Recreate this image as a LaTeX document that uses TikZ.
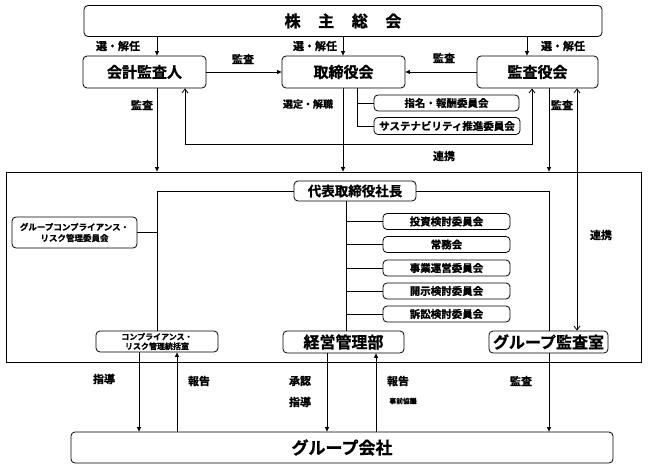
\documentclass[tikz,border=0pt]{standalone}
\usepackage{fontspec}
\setmainfont{Noto Sans CJK JP}[BoldFont={Noto Sans CJK JP Bold},BoldFeatures={FakeBold=1}]
\usetikzlibrary{arrows.meta}
\newcommand{\myfs}[2]{\fontsize{#1}{#2}\selectfont}
\tikzset{
  box/.style={draw, rounded corners=4pt, line width=0.8pt, inner sep=0pt, align=center},
  lbl/.style={inner sep=0pt, font=\bfseries\myfs{11}{13}},
  arr/.style={-{Triangle[length=4.5pt,width=4pt]}},
  barb/.style={{Straight Barb[length=4pt,width=6pt]}-{Straight Barb[length=4pt,width=6pt]}},
  comm/.style={box, minimum width=127pt, minimum height=16pt, font=\bfseries\myfs{10.5}{12}}
}
\begin{document}
\begin{tikzpicture}[x=1pt,y=-1pt,line width=0.8pt]
\useasboundingbox (0,0) rectangle (648,468);
% columns
\coordinate (xA) at (157,0);
\coordinate (xL) at (185,0);
\coordinate (xT) at (343,0);
\coordinate (xB) at (357,0);
\coordinate (xK) at (527,0);
\coordinate (xR) at (532,0);
\coordinate (xS) at (549,0);
\coordinate (xD) at (577,0);
\coordinate (xP) at (346,0);
\coordinate (x1) at (139,0);
\coordinate (x2) at (177,0);
\coordinate (x3) at (327,0);
\coordinate (x4) at (376,0);
\coordinate (rl) at (0,144);
% boxes
\node[box,minimum width=518pt,minimum height=31pt,font=\bfseries\myfs{16}{19}] (gm) at (343,21) {株\hspace{1.1em}主\hspace{1.1em}総\hspace{1.1em}会};
\node[box,minimum width=123pt,minimum height=32pt,font=\bfseries\myfs{15}{18}] (kaikei) at (144.5,72) {会計監査人};
\node[box,minimum width=123pt,minimum height=32pt,font=\bfseries\myfs{15}{18}] (tori) at (343.5,72) {取締役会};
\node[box,minimum width=121pt,minimum height=32pt,font=\bfseries\myfs{15}{18}] (kansa) at (537.5,72) {監査役会};
\node[box,minimum width=145pt,minimum height=16pt,font=\bfseries\myfs{10.5}{12}] (shimei) at (446.5,103) {指名・報酬委員会};
\node[box,minimum width=146pt,minimum height=17pt,font=\bfseries\myfs{10.5}{12}] (susta) at (447,126) {サステナビリティ推進委員会};
\node[draw,minimum width=635pt,minimum height=190pt,inner sep=0pt] (outer) at (323.5,267) {};
\node[box,minimum width=122pt,minimum height=20pt,font=\bfseries\myfs{13.5}{16}] (pres) at (355,191) {代表取締役社長};
\node[box,minimum width=125pt,minimum height=31pt,font=\bfseries\myfs{8.5}{11}] (gcr) at (74.5,232.5) {グループコンプライアンス・\\リスク管理委員会};
\node[comm] (c1) at (446.5,221.5) {投資検討委員会};
\node[comm] (c2) at (446.5,244.5) {常務会};
\node[comm] (c3) at (446.5,268) {事業運営委員会};
\node[comm] (c4) at (446.5,291) {開示検討委員会};
\node[comm] (c5) at (446.5,314) {訴訟検討委員会};
\node[box,minimum width=122pt,minimum height=21pt,font=\bfseries\myfs{8}{9.5}] (comp) at (157,341.5) {コンプライアンス・\\リスク管理統括室};
\node[box,minimum width=121pt,minimum height=22pt,font=\bfseries\myfs{16}{19}] (keiei) at (343.5,342) {経営管理部};
\node[box,minimum width=119pt,minimum height=22pt,font=\bfseries\myfs{16}{19}] (audit) at (548.5,342) {グループ監査室};
\node[box,minimum width=542pt,minimum height=31pt,font=\bfseries\myfs{17}{20}] (group) at (342,447.5) {グループ会社};
% connectors top
\draw[arr] (gm.south -| xA) -- (kaikei.north -| xA);
\draw[arr] (gm.south -| xT) -- (tori.north -| xT);
\draw[arr] (gm.south -| xK) -- (kansa.north -| xK);
\draw[arr] (kaikei) -- (tori);
\draw[arr] (kansa) -- (tori);
\draw[arr] (kaikei.south -| xA) -- (outer.north -| xA);
\draw[arr] (tori.south -| xT) -- (outer.north -| xT);
\draw[arr] (kansa.south -| xS) -- (outer.north -| xS);
\draw (tori.south -| xB) |- (susta.west);
\draw (shimei.west -| xB) -- (shimei.west);
\draw[barb] (kaikei.south -| xL) -- (xL |- rl) -- (xR |- rl) -- (kansa.south -| xR);
\draw[barb] (kansa.south -| xD) -- (audit.north -| xD);
% inside
\draw (pres.west) -| (comp.north);
\draw (pres.east) -| (audit.north -| xS);
\draw (gcr.east) -- (gcr.east -| xA);
\draw (pres.south -| xP) -- (keiei.north -| xP);
\foreach \c in {c1,c2,c3,c4,c5} {\draw (\c.west -| xP) -- (\c.west);}
% bottom
\draw[arr] (comp.south -| x1) -- (group.north -| x1);
\draw[arr] (group.north -| x2) -- (comp.south -| x2);
\draw[arr] (keiei.south -| x3) -- (group.north -| x3);
\draw[arr] (group.north -| x4) -- (keiei.south -| x4);
\draw[arr] (audit.south -| xS) -- (group.north -| xS);
% labels
\node[lbl] (l1) at (118,46) {選・解任};
\node[lbl] (l2) at (315,46) {選・解任};
\node[lbl] (l3) at (563,46) {選・解任};
\node[lbl] (l4) at (243,59) {監査};
\node[lbl] (l5) at (444,58) {監査};
\node[lbl] (l6) at (142,105) {監査};
\node[lbl,font=\bfseries\myfs{10}{12}] (l7) at (308,104) {選定・解職};
\node[lbl] (l8) at (562,105) {監査};
\node[lbl] (l9) at (444,156) {連携};
\node[lbl] (l10) at (601,235) {連携};
\node[lbl] (l11) at (104,379) {指導};
\node[lbl] (l12) at (199,381) {報告};
\node[lbl] (l13) at (300,381) {承認};
\node[lbl] (l14) at (300,402) {指導};
\node[lbl] (l15) at (398,381) {報告};
\node[lbl,font=\bfseries\myfs{6.8}{8}] (l16) at (403,401) {事前協議};
\node[lbl] (l17) at (521,381) {監査};
\end{tikzpicture}
\end{document}
